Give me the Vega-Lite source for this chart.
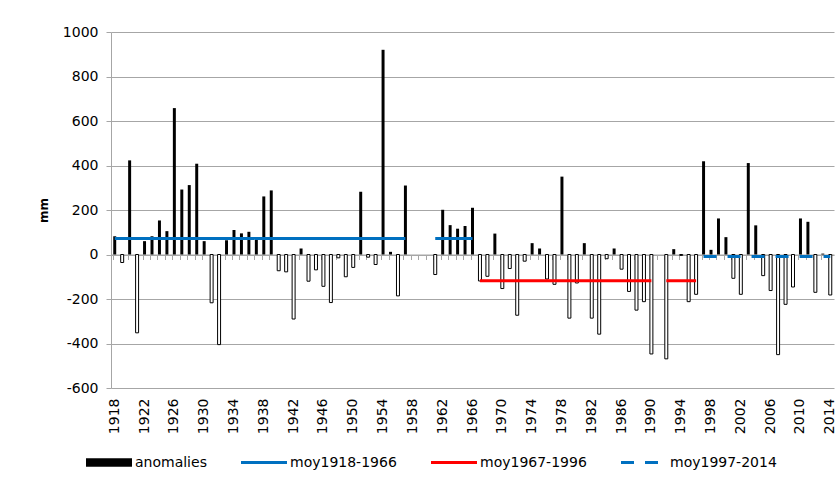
{
  "$schema": "https://vega.github.io/schema/vega-lite/v6.json",
  "width": 723,
  "height": 356,
  "autosize": {"type": "none"},
  "padding": {"left": 111, "top": 32, "right": 5, "bottom": 98},
  "background": "white",
  "config": {
    "view": {"stroke": null},
    "font": "DejaVu Sans",
    "axis": {"labelFont": "DejaVu Sans", "labelFontSize": 14, "labelColor": "#000000"}
  },
  "data": {
    "values": [
      {"year": 1918, "anomaly": 82, "periode": "moy1918-1966", "moy": 72},
      {"year": 1919, "anomaly": -36, "periode": "moy1918-1966", "moy": 72},
      {"year": 1920, "anomaly": 423, "periode": "moy1918-1966", "moy": 72},
      {"year": 1921, "anomaly": -352, "periode": "moy1918-1966", "moy": 72},
      {"year": 1922, "anomaly": 60, "periode": "moy1918-1966", "moy": 72},
      {"year": 1923, "anomaly": 82, "periode": "moy1918-1966", "moy": 72},
      {"year": 1924, "anomaly": 153, "periode": "moy1918-1966", "moy": 72},
      {"year": 1925, "anomaly": 105, "periode": "moy1918-1966", "moy": 72},
      {"year": 1926, "anomaly": 658, "periode": "moy1918-1966", "moy": 72},
      {"year": 1927, "anomaly": 292, "periode": "moy1918-1966", "moy": 72},
      {"year": 1928, "anomaly": 312, "periode": "moy1918-1966", "moy": 72},
      {"year": 1929, "anomaly": 408, "periode": "moy1918-1966", "moy": 72},
      {"year": 1930, "anomaly": 60, "periode": "moy1918-1966", "moy": 72},
      {"year": 1931, "anomaly": -217, "periode": "moy1918-1966", "moy": 72},
      {"year": 1932, "anomaly": -405, "periode": "moy1918-1966", "moy": 72},
      {"year": 1933, "anomaly": 64, "periode": "moy1918-1966", "moy": 72},
      {"year": 1934, "anomaly": 110, "periode": "moy1918-1966", "moy": 72},
      {"year": 1935, "anomaly": 95, "periode": "moy1918-1966", "moy": 72},
      {"year": 1936, "anomaly": 102, "periode": "moy1918-1966", "moy": 72},
      {"year": 1937, "anomaly": 66, "periode": "moy1918-1966", "moy": 72},
      {"year": 1938, "anomaly": 261, "periode": "moy1918-1966", "moy": 72},
      {"year": 1939, "anomaly": 288, "periode": "moy1918-1966", "moy": 72},
      {"year": 1940, "anomaly": -73, "periode": "moy1918-1966", "moy": 72},
      {"year": 1941, "anomaly": -78, "periode": "moy1918-1966", "moy": 72},
      {"year": 1942, "anomaly": -290, "periode": "moy1918-1966", "moy": 72},
      {"year": 1943, "anomaly": 27, "periode": "moy1918-1966", "moy": 72},
      {"year": 1944, "anomaly": -120, "periode": "moy1918-1966", "moy": 72},
      {"year": 1945, "anomaly": -69, "periode": "moy1918-1966", "moy": 72},
      {"year": 1946, "anomaly": -143, "periode": "moy1918-1966", "moy": 72},
      {"year": 1947, "anomaly": -216, "periode": "moy1918-1966", "moy": 72},
      {"year": 1948, "anomaly": -15, "periode": "moy1918-1966", "moy": 72},
      {"year": 1949, "anomaly": -100, "periode": "moy1918-1966", "moy": 72},
      {"year": 1950, "anomaly": -58, "periode": "moy1918-1966", "moy": 72},
      {"year": 1951, "anomaly": 282, "periode": "moy1918-1966", "moy": 72},
      {"year": 1952, "anomaly": -12, "periode": "moy1918-1966", "moy": 72},
      {"year": 1953, "anomaly": -45, "periode": "moy1918-1966", "moy": 72},
      {"year": 1954, "anomaly": 920, "periode": "moy1918-1966", "moy": 72},
      {"year": 1955, "anomaly": 12, "periode": "moy1918-1966", "moy": 72},
      {"year": 1956, "anomaly": -186, "periode": "moy1918-1966", "moy": 72},
      {"year": 1957, "anomaly": 310, "periode": "moy1918-1966", "moy": 72},
      {"year": 1958, "anomaly": null, "periode": "moy1918-1966", "moy": null},
      {"year": 1959, "anomaly": null, "periode": "moy1918-1966", "moy": null},
      {"year": 1960, "anomaly": null, "periode": "moy1918-1966", "moy": null},
      {"year": 1961, "anomaly": -90, "periode": "moy1918-1966", "moy": 72},
      {"year": 1962, "anomaly": 201, "periode": "moy1918-1966", "moy": 72},
      {"year": 1963, "anomaly": 132, "periode": "moy1918-1966", "moy": 72},
      {"year": 1964, "anomaly": 116, "periode": "moy1918-1966", "moy": 72},
      {"year": 1965, "anomaly": 128, "periode": "moy1918-1966", "moy": 72},
      {"year": 1966, "anomaly": 210, "periode": "moy1918-1966", "moy": 72},
      {"year": 1967, "anomaly": -119, "periode": "moy1967-1996", "moy": -118},
      {"year": 1968, "anomaly": -98, "periode": "moy1967-1996", "moy": -118},
      {"year": 1969, "anomaly": 94, "periode": "moy1967-1996", "moy": -118},
      {"year": 1970, "anomaly": -153, "periode": "moy1967-1996", "moy": -118},
      {"year": 1971, "anomaly": -63, "periode": "moy1967-1996", "moy": -118},
      {"year": 1972, "anomaly": -273, "periode": "moy1967-1996", "moy": -118},
      {"year": 1973, "anomaly": -30, "periode": "moy1967-1996", "moy": -118},
      {"year": 1974, "anomaly": 51, "periode": "moy1967-1996", "moy": -118},
      {"year": 1975, "anomaly": 27, "periode": "moy1967-1996", "moy": -118},
      {"year": 1976, "anomaly": -110, "periode": "moy1967-1996", "moy": -118},
      {"year": 1977, "anomaly": -134, "periode": "moy1967-1996", "moy": -118},
      {"year": 1978, "anomaly": 350, "periode": "moy1967-1996", "moy": -118},
      {"year": 1979, "anomaly": -286, "periode": "moy1967-1996", "moy": -118},
      {"year": 1980, "anomaly": -128, "periode": "moy1967-1996", "moy": -118},
      {"year": 1981, "anomaly": 51, "periode": "moy1967-1996", "moy": -118},
      {"year": 1982, "anomaly": -286, "periode": "moy1967-1996", "moy": -118},
      {"year": 1983, "anomaly": -358, "periode": "moy1967-1996", "moy": -118},
      {"year": 1984, "anomaly": -19, "periode": "moy1967-1996", "moy": -118},
      {"year": 1985, "anomaly": 27, "periode": "moy1967-1996", "moy": -118},
      {"year": 1986, "anomaly": -66, "periode": "moy1967-1996", "moy": -118},
      {"year": 1987, "anomaly": -166, "periode": "moy1967-1996", "moy": -118},
      {"year": 1988, "anomaly": -250, "periode": "moy1967-1996", "moy": -118},
      {"year": 1989, "anomaly": -212, "periode": "moy1967-1996", "moy": -118},
      {"year": 1990, "anomaly": -447, "periode": "moy1967-1996", "moy": -118},
      {"year": 1991, "anomaly": null, "periode": "moy1967-1996", "moy": null},
      {"year": 1992, "anomaly": -469, "periode": "moy1967-1996", "moy": -118},
      {"year": 1993, "anomaly": 24, "periode": "moy1967-1996", "moy": -118},
      {"year": 1994, "anomaly": -4, "periode": "moy1967-1996", "moy": -118},
      {"year": 1995, "anomaly": -212, "periode": "moy1967-1996", "moy": -118},
      {"year": 1996, "anomaly": -179, "periode": "moy1967-1996", "moy": -118},
      {"year": 1997, "anomaly": 419, "periode": "moy1997-2014", "moy": -9},
      {"year": 1998, "anomaly": 21, "periode": "moy1997-2014", "moy": -9},
      {"year": 1999, "anomaly": 162, "periode": "moy1997-2014", "moy": -9},
      {"year": 2000, "anomaly": 78, "periode": "moy1997-2014", "moy": -9},
      {"year": 2001, "anomaly": -107, "periode": "moy1997-2014", "moy": -9},
      {"year": 2002, "anomaly": -179, "periode": "moy1997-2014", "moy": -9},
      {"year": 2003, "anomaly": 411, "periode": "moy1997-2014", "moy": -9},
      {"year": 2004, "anomaly": 131, "periode": "moy1997-2014", "moy": -9},
      {"year": 2005, "anomaly": -95, "periode": "moy1997-2014", "moy": -9},
      {"year": 2006, "anomaly": -162, "periode": "moy1997-2014", "moy": -9},
      {"year": 2007, "anomaly": -450, "periode": "moy1997-2014", "moy": -9},
      {"year": 2008, "anomaly": -224, "periode": "moy1997-2014", "moy": -9},
      {"year": 2009, "anomaly": -146, "periode": "moy1997-2014", "moy": -9},
      {"year": 2010, "anomaly": 162, "periode": "moy1997-2014", "moy": -9},
      {"year": 2011, "anomaly": 147, "periode": "moy1997-2014", "moy": -9},
      {"year": 2012, "anomaly": -170, "periode": "moy1997-2014", "moy": -9},
      {"year": 2013, "anomaly": 4, "periode": "moy1997-2014", "moy": -9},
      {"year": 2014, "anomaly": -182, "periode": "moy1997-2014", "moy": -9}
    ]
  },
  "layer": [
    {
      "mark": {"type": "bar", "strokeWidth": 1},
      "encoding": {
        "x": {
          "field": "year",
          "type": "ordinal",
          "scale": {"paddingInner": 0.6, "paddingOuter": 0.3},
          "axis": {
            "orient": "bottom",
            "title": null,
            "domain": false,
            "ticks": false,
            "grid": false,
            "labelAngle": -90,
            "labelAlign": "right",
            "labelBaseline": "middle",
            "labelPadding": 10,
            "labelOverlap": false,
            "labelExpr": "(datum.value - 1918) % 4 === 0 ? datum.label : ''"
          }
        },
        "y": {
          "field": "anomaly",
          "type": "quantitative",
          "scale": {"domain": [-600, 1000], "nice": false},
          "axis": {
            "values": [-600, -400, -200, 0, 200, 400, 600, 800, 1000],
            "labelExpr": "datum.value + ''",
            "title": "mm",
            "titleFont": "DejaVu Sans",
            "titleFontWeight": "bold",
            "titleFontSize": 12,
            "titleColor": "#000000",
            "titlePadding": 12,
            "grid": true,
            "gridColor": "#A6A6A6",
            "domainColor": "#A6A6A6",
            "tickColor": "#A6A6A6",
            "tickSize": 5,
            "labelPadding": 8
          }
        },
        "color": {"condition": {"test": "datum.anomaly < 0", "value": "white"}, "value": "black"},
        "stroke": {"condition": {"test": "datum.anomaly < 0", "value": "black"}, "value": "transparent"}
      }
    },
    {
      "mark": {"type": "line", "strokeWidth": 3, "strokeCap": "butt"},
      "encoding": {
        "x": {
          "field": "year",
          "type": "ordinal",
          "axis": {
            "orient": "bottom",
            "offset": -133.5,
            "labels": false,
            "title": null,
            "domain": true,
            "domainColor": "#A6A6A6",
            "ticks": true,
            "tickColor": "#A6A6A6",
            "tickSize": 5,
            "bandPosition": 0,
            "grid": false
          }
        },
        "y": {"field": "moy", "type": "quantitative", "axis": {"title": "mm"}},
        "color": {
          "field": "periode",
          "type": "nominal",
          "scale": {
            "domain": ["anomalies", "moy1918-1966", "moy1967-1996", "moy1997-2014"],
            "range": ["black", "#0070C0", "#FF0000", "#0070C0"]
          },
          "legend": {
            "orient": "none",
            "legendX": -25,
            "legendY": 423.5,
            "direction": "horizontal",
            "title": null,
            "symbolSize": 2116,
            "symbolStrokeWidth": 3,
            "labelFont": "DejaVu Sans",
            "labelFontSize": 14,
            "labelColor": "#000000",
            "labelOffset": 35,
            "columnPadding": 28,
            "encode": {
              "symbols": {
                "update": {
                  "x": {"value": 23},
                  "size": {"value": 2116},
                  "shape": {"signal": "datum.value === 'anomalies' ? 'M-1,-0.18H1V0.18H-1Z' : 'stroke'"},
                  "fill": {"signal": "datum.value === 'anomalies' ? 'black' : 'transparent'"},
                  "stroke": {"signal": "datum.value === 'anomalies' ? 'black' : (datum.value === 'moy1967-1996' ? '#FF0000' : '#0070C0')"},
                  "strokeWidth": {"signal": "datum.value === 'anomalies' ? 0 : 3"},
                  "strokeDash": {"signal": "datum.value === 'moy1997-2014' ? [10, 18] : [100, 0]"},
                  "opacity": {"value": 1}
                }
              }
            }
          }
        },
        "strokeDash": {
          "field": "periode",
          "type": "nominal",
          "scale": {
            "domain": ["anomalies", "moy1918-1966", "moy1967-1996", "moy1997-2014"],
            "range": [[1, 0], [1, 0], [1, 0], [13, 11]]
          },
          "legend": null
        }
      }
    }
  ],
  "resolve": {"axis": {"x": "independent"}}
}
